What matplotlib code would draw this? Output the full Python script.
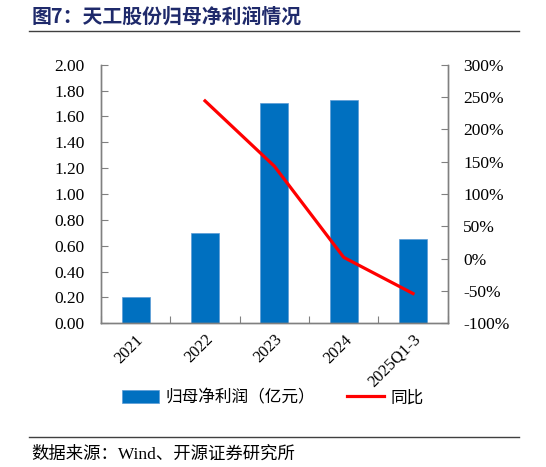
import numpy as np
import matplotlib
matplotlib.use("Agg")
import matplotlib.pyplot as plt
from matplotlib.ticker import FuncFormatter, MultipleLocator

plt.rcParams['font.family'] = ['Liberation Serif', 'Noto Sans CJK SC']

# data
categories = ['2021', '2022', '2023', '2024', '2025Q1-3']
profit = [0.20, 0.70, 1.70, 1.73, 0.65]          # 归母净利润（亿元）
yoy = [np.nan, 244, 143, 2, -54]                 # 同比 (%)

bar_color = '#0070C0'
line_color = '#FF0000'
spine_color = '#808080'
cjk = ['Noto Sans CJK SC', 'DejaVu Sans']

fig = plt.figure(figsize=(5.46, 4.67), dpi=100)
ax = fig.add_axes([0.185, 0.3077, 0.635, 0.5538])
ax2 = ax.twinx()

x = np.arange(len(categories))
ax.bar(x, profit, width=0.4, color=bar_color, edgecolor='#5B9BD5', linewidth=0.5,
       label='归母净利润（亿元）', zorder=2)
ax2.plot(x, yoy, color=line_color, linewidth=2.3, label='同比', zorder=3)

ax.set_xlim(-0.5, len(categories) - 0.5)
ax.set_ylim(0, 2.0)
ax.yaxis.set_major_locator(MultipleLocator(0.2))
ax.yaxis.set_major_formatter(FuncFormatter(lambda v, p: f'{v:.2f}'))
ax2.set_ylim(-100, 300)
ax2.yaxis.set_major_locator(MultipleLocator(50))
ax2.yaxis.set_major_formatter(FuncFormatter(lambda v, p: f'{v:.0f}%'))

# category boundary ticks, labels at centres
ax.set_xticks(np.arange(len(categories) + 1) - 0.5)
ax.set_xticklabels([])
ax.set_xticks(x, minor=True)
ax.set_xticklabels(categories, minor=True, rotation=45, ha='right',
                   rotation_mode='anchor', fontsize=12)
ax.tick_params(axis='x', which='minor', length=0, pad=6)
ax.tick_params(axis='x', which='major', direction='in', length=5, color=spine_color)
ax.tick_params(axis='y', direction='in', length=5, color=spine_color, labelsize=12.5, pad=12)
ax2.tick_params(axis='y', direction='in', length=5, color=spine_color, labelsize=12.5, pad=11)

for a in (ax, ax2):
    a.spines['top'].set_visible(False)
    for s in ('left', 'right', 'bottom'):
        a.spines[s].set_color(spine_color)
        a.spines[s].set_linewidth(1.0)
ax.set_zorder(ax2.get_zorder() - 1)
ax.patch.set_visible(False)

h1, l1 = ax.get_legend_handles_labels()
h2, l2 = ax2.get_legend_handles_labels()
fig.legend(h1 + h2, l1 + l2, loc='center', bbox_to_anchor=(0.5, 0.148), ncol=2,
           frameon=False, prop={'family': cjk, 'size': 12},
           handlelength=2.2, handleheight=0.8, columnspacing=1.9, handletextpad=0.4)

# title, rules, source
fig.text(0.058, 0.966, '图7：天工股份归母净利润情况', family=cjk, fontsize=14.3,
         fontweight='bold', color='#1F2A6B', va='center', ha='left')
fig.add_artist(plt.Line2D([0.053, 0.95], [0.934, 0.934], color='#404040', linewidth=1.0))
fig.add_artist(plt.Line2D([0.053, 0.95], [0.064, 0.064], color='#404040', linewidth=1.0))
fig.text(0.057, 0.027, '数据来源：Wind、开源证券研究所', family=['Liberation Serif', 'Noto Sans CJK SC'],
         fontsize=12.5, color='#000000', va='center', ha='left')

fig.savefig('out.png', dpi=100)
